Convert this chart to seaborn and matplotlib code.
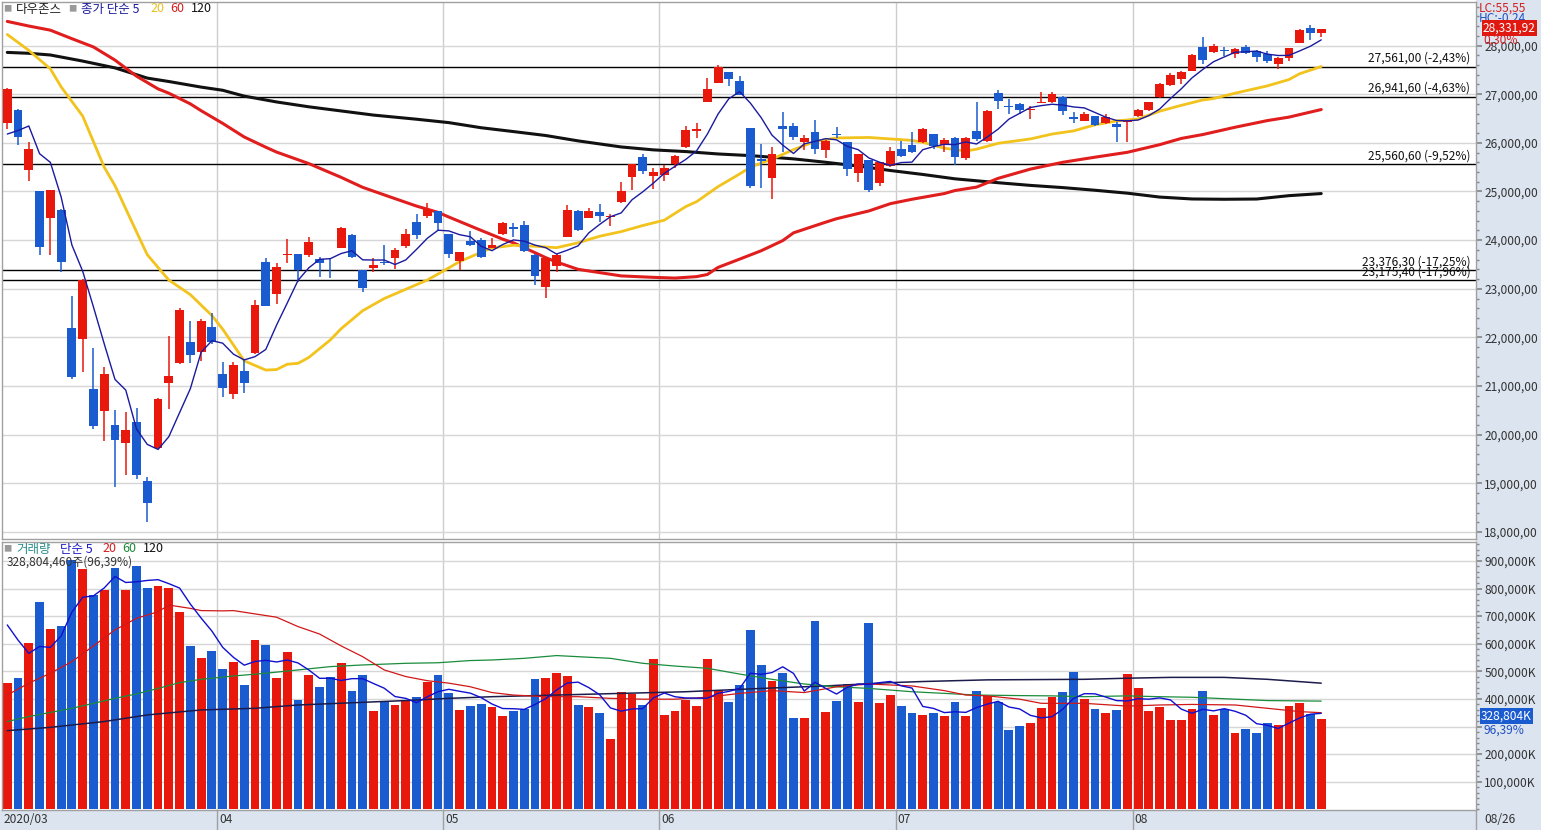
import numpy as np
import pandas as pd
import matplotlib
matplotlib.use('Agg')
import matplotlib.pyplot as plt
from matplotlib.patches import Rectangle
from matplotlib.ticker import FixedLocator, MultipleLocator, FuncFormatter
import seaborn as sns

# Dow Jones daily candles, 2020-03-04 .. 2020-08-26 (123 sessions)
opens = [26401, 26684, 25445, 25006, 24462, 24617, 22197, 21977, 20937, 20498,
         20194, 19840, 20265, 19040, 19734, 21057, 21468, 21907, 21694, 22211,
         21242, 20831, 21312, 21680, 23542, 22898, 23700, 23711, 23697, 23612,
         23534, 23839, 24108, 23379, 23428, 23556, 23641, 23874, 24370, 24490,
         24596, 24122, 23577, 23980, 24002, 23839, 24122, 24263, 24313, 23697,
         23046, 23471, 24072, 24596, 24462, 24568, 24469, 24780, 25304, 25700,
         25325, 25346, 25573, 25905, 26245, 26846, 27236, 27448, 27271, 26302,
         25665, 25268, 26337, 26337, 26018, 26224, 25856, 26174, 26018, 25374,
         25643, 25169, 25516, 25877, 25948, 26011, 26174, 25948, 26089, 25693,
         26245, 26033, 27023, 26754, 26797, 26670, 26825, 26832, 26938, 26528,
         26457, 26542, 26401, 26386, 26422, 26542, 26670, 26938, 27179, 27321,
         27483, 27965, 27858, 27908, 27823, 27979, 27887, 27823, 27611, 27752,
         28050, 28354, 28262]
highs = [27130, 26700, 26018, 25020, 25040, 24630, 22848, 23200, 21787, 21383,
         20513, 20477, 20548, 19133, 20760, 22034, 22614, 22338, 22388, 22494,
         21504, 21490, 21539, 22777, 23641, 23520, 24030, 23720, 24065, 23662,
         23641, 24263, 24122, 23390, 23627, 23910, 23839, 24228, 24532, 24773,
         24600, 24130, 23747, 24178, 24051, 24051, 24370, 24355, 24384, 23705,
         23641, 23718, 24723, 24617, 24667, 24737, 24547, 25198, 25573, 25771,
         25488, 25537, 25740, 26337, 26408, 27342, 27604, 27460, 27363, 26310,
         25976, 25905, 26634, 26408, 26153, 26471, 26068, 26316, 26025, 25780,
         25650, 25615, 25905, 26033, 26231, 26300, 26180, 26103, 26118, 26118,
         26846, 26684, 27080, 26896, 26811, 26754, 27037, 27037, 26967, 26634,
         26634, 26550, 26599, 26422, 26471, 26705, 26846, 27236, 27427, 27483,
         27816, 28177, 28028, 27979, 27958, 28014, 27908, 27894, 27766, 27958,
         28333, 28418, 28340]
lows = [26280, 25948, 25219, 23697, 23697, 23343, 21150, 21291, 20123, 19876,
        18920, 19182, 19097, 18212, 19699, 20527, 21447, 21482, 21517, 21857,
        20782, 20739, 20866, 21660, 22640, 22692, 23520, 23131, 23662, 23237,
        23216, 23830, 23627, 22933, 23343, 23485, 23414, 23839, 24016, 24462,
        24207, 23640, 23379, 23874, 23641, 23830, 24115, 24065, 23747, 23074,
        22805, 23343, 24065, 24178, 24455, 24370, 24299, 24770, 25021, 25360,
        25042, 25219, 25488, 25898, 26089, 26840, 27230, 27165, 26980, 25077,
        25077, 24844, 25820, 26068, 25856, 25764, 25679, 26103, 25311, 25205,
        24985, 25113, 25510, 25714, 25785, 25997, 25870, 25820, 25537, 25643,
        26033, 26025, 26705, 26585, 26599, 26493, 26811, 26825, 26563, 26401,
        26443, 26351, 26395, 26018, 26018, 26535, 26655, 26930, 27165, 27214,
        27475, 27625, 27850, 27788, 27752, 27816, 27660, 27646, 27519, 27682,
        28045, 28106, 28170]
closes = [27108, 26125, 25877, 23853, 25028, 23556, 21185, 23188, 20180, 21241,
          19897, 20088, 19182, 18602, 20725, 21206, 22565, 21645, 22338, 21914,
          20951, 21433, 21057, 22671, 22650, 23450, 23720, 23379, 23959, 23520,
          23520, 24249, 23662, 23025, 23499, 23520, 23789, 24136, 24108, 24638,
          24348, 23718, 23747, 23895, 23662, 23895, 24348, 24221, 23768, 23258,
          23627, 23697, 24617, 24214, 24596, 24490, 24490, 25006, 25559, 25417,
          25396, 25481, 25735, 26266, 26294, 27115, 27554, 27306, 26988, 25113,
          25622, 25764, 26280, 26125, 26103, 25877, 26047, 26153, 25452, 25771,
          25021, 25608, 25835, 25735, 25820, 26294, 25926, 26068, 25714, 26089,
          26082, 26655, 26868, 26740, 26684, 26684, 26846, 27009, 26655, 26493,
          26585, 26372, 26528, 26316, 26457, 26670, 26832, 27200, 27391, 27448,
          27802, 27696, 27993, 27887, 27929, 27851, 27766, 27681, 27745, 27943,
          28311, 28248, 28331.92]
prior_closes = [25766, 25409, 26703, 25917]

# volume, millions of shares
volumes = [456, 475, 601, 750, 652, 664, 905, 870, 776, 795,
           873, 795, 882, 801, 809, 801, 715, 592, 547, 574,
           507, 533, 450, 614, 595, 477, 569, 396, 487, 444,
           478, 529, 429, 487, 356, 393, 378, 396, 408, 463,
           487, 420, 360, 374, 382, 372, 338, 356, 362, 472,
           477, 494, 483, 378, 372, 349, 255, 424, 418, 378,
           545, 342, 356, 396, 374, 545, 432, 389, 450, 650,
           523, 465, 494, 330, 330, 682, 353, 393, 453, 389,
           675, 385, 414, 374, 349, 342, 349, 338, 389, 338,
           429, 412, 388, 287, 302, 313, 367, 408, 424, 496,
           400, 364, 349, 360, 490, 440, 356, 372, 324, 324,
           364, 429, 342, 364, 277, 291, 277, 313, 306, 374,
           385, 345, 328.804]
prior_volumes = [750, 841, 625, 668]

# moving averages (session index, value)
ma20_idx = [0, 2, 4, 5, 7, 9, 10, 12, 13, 15, 17, 19, 20, 22, 24, 25, 26, 27, 28, 30,
            31, 33, 35, 37, 39, 41, 42, 44, 45, 47, 49, 51, 53, 55, 57, 59, 61, 63, 64, 66,
            68, 69, 71, 73, 75, 77, 80, 84, 85, 87, 89, 90, 92, 95, 97, 99, 101, 103, 105, 107,
            109, 111, 112, 114, 117, 119, 120, 122]
ma20_val = [28226, 27900, 27520, 27150, 26550, 25500, 25120, 24170, 23700, 23180,
            22880, 22450, 22170, 21520, 21330, 21340, 21450, 21468, 21590, 21950,
            22180, 22550, 22800, 22990, 23180, 23430, 23560, 23750, 23840, 23895,
            23874, 23845, 23945, 24080, 24175, 24300, 24410, 24690, 24790, 25100,
            25360, 25500, 25665, 25860, 26030, 26100, 26110, 26050, 26010, 25890,
            25830, 25870, 25990, 26080, 26180, 26245, 26370, 26450, 26490, 26650,
            26770, 26880, 26910, 27020, 27170, 27300, 27420, 27568]
ma60_idx = [0, 2, 4, 6, 8, 10, 12, 14, 15, 17, 18, 20, 22, 24, 25, 28, 31, 33, 35, 38,
            40, 41, 44, 46, 47, 50, 51, 53, 57, 60, 62, 64, 65, 66, 68, 70, 72, 73, 76, 77,
            80, 82, 84, 87, 88, 90, 92, 95, 98, 101, 104, 107, 109, 111, 114, 117, 119, 122]
ma60_val = [28495, 28400, 28315, 28140, 27970, 27700, 27370, 27108, 27020, 26800,
            26660, 26400, 26120, 25910, 25810, 25573, 25290, 25085, 24930, 24700,
            24570, 24475, 24200, 24020, 23945, 23640, 23550, 23400, 23265, 23235,
            23220, 23250, 23294, 23440, 23610, 23782, 23990, 24150, 24370, 24440,
            24600, 24750, 24840, 24957, 25020, 25090, 25270, 25460, 25600, 25705,
            25805, 25962, 26090, 26170, 26320, 26457, 26528, 26684]
ma120_idx = [0, 2, 4, 7, 10, 13, 15, 18, 20, 22, 25, 28, 31, 34, 38, 41, 44, 47, 50, 53,
             57, 60, 63, 66, 69, 73, 76, 79, 82, 85, 88, 92, 95, 98, 101, 104, 107, 110, 113, 116,
             119, 122]
ma120_val = [27858, 27840, 27805, 27680, 27540, 27330, 27260, 27145, 27080, 26960,
             26840, 26740, 26655, 26570, 26485, 26415, 26310, 26231, 26150, 26040,
             25915, 25855, 25820, 25771, 25737, 25670, 25600, 25523, 25431, 25350,
             25260, 25180, 25125, 25080, 25025, 24965, 24885, 24846, 24840, 24845,
             24914, 24957]

vma20_idx = [0, 2, 4, 6, 8, 10, 12, 14, 15, 17, 18, 20, 21, 23, 25, 27, 29, 31, 33, 35,
             37, 39, 41, 43, 45, 47, 50, 53, 56, 59, 62, 65, 68, 71, 74, 77, 80, 84, 87, 89,
             91, 94, 96, 100, 104, 107, 110, 114, 117, 120, 122]
vma20_val = [414, 457, 493, 535, 592, 650, 692, 716, 740, 728, 720, 719, 720, 708, 696,
             662, 635, 592, 553, 505, 481, 466, 457, 444, 423, 414, 408, 408, 402, 399,
             399, 406, 420, 430, 423, 444, 454, 447, 430, 414, 411, 399, 384, 384, 374,
             378, 380, 378, 366, 354, 350]
vma60_idx = [0, 2, 6, 8, 10, 12, 14, 16, 18, 21, 24, 27, 30, 33, 37, 40, 43, 45, 48, 51,
             53, 56, 59, 62, 65, 68, 71, 74, 77, 80, 84, 87, 90, 94, 97, 100, 104, 107, 110, 114,
             117, 122]
vma60_val = [318, 336, 366, 384, 402, 418, 438, 459, 471, 483, 493, 505, 517, 523, 529,
             531, 539, 541, 547, 557, 553, 547, 529, 519, 511, 490, 471, 454, 444, 438,
             426, 420, 414, 412, 411, 408, 411, 408, 406, 399, 394, 392]
vma120_idx = [0, 4, 9, 13, 18, 23, 27, 32, 37, 41, 45, 51, 57, 63, 70, 76, 82, 85, 91, 100,
              104, 108, 113, 117, 122]
vma120_val = [285, 297, 318, 342, 360, 366, 378, 386, 394, 402, 408, 414, 420, 426, 438,
              447, 459, 463, 469, 471, 475, 478, 478, 471, 457]

levels = [27561.00, 26941.60, 25560.60, 23376.30, 23175.40]
level_pct = [-2.43, -4.63, -9.52, -17.25, -17.96]

month_first_idx = [20, 41, 61, 83, 105]
month_labels = ['04', '05', '06', '07', '08']

RED = '#e8190c'
BLUE = '#1a5bd0'
STRIP = '#dce4ef'
W, H = 1541, 830

sns.set_theme(style='white')
plt.rcParams['font.family'] = ['Noto Sans CJK KR', 'DejaVu Sans']

n = len(closes)
idx = np.arange(n)
o = np.array(opens, dtype=float)
c = np.array(closes, dtype=float)
up = c >= o
ma5 = pd.Series(prior_closes + closes).rolling(5).mean().iloc[4:].to_numpy()
vma5 = pd.Series(prior_volumes + volumes).rolling(5).mean().iloc[4:].to_numpy()

fig = plt.figure(figsize=(W / 100, H / 100), dpi=100)
fig.patch.set_facecolor('white')


def box(l, t, r, b):
    return [l / W, 1 - b / H, (r - l) / W, (b - t) / H]


def ftext(x, y, s, **kw):
    kw.setdefault('va', 'center')
    return fig.text(x / W, 1 - y / H, s, **kw)


def comma_dec(v):
    # 28,331.92 -> 28,331,92 as the HTS prints it
    return f"{v:,.2f}".replace('.', ',')


# background strips for the axis areas (drawn under the axes)
fig.patches.append(Rectangle((1476 / W, 0), 1 - 1476 / W, 1, transform=fig.transFigure,
                             color=STRIP, zorder=-5))
fig.patches.append(Rectangle((0, 0), 1, 20 / H, transform=fig.transFigure,
                             color=STRIP, zorder=-5))

axp = fig.add_axes(box(2, 2, 1476, 539))
axv = fig.add_axes(box(2, 542, 1476, 810))

for ax in (axp, axv):
    ax.set_xlim(-0.49, 136.37)
    ax.set_facecolor('white')
    for s in ax.spines.values():
        s.set_color('#a0a0a0')
        s.set_linewidth(1)
    for m in month_first_idx:
        ax.axvline(m - 0.5, color='#cdcdcd', lw=1, zorder=0)
    ax.set_xticks([])

# ---- price panel ----
sns.lineplot(x=ma120_idx, y=ma120_val, color='#111111', lw=2.2, ax=axp, zorder=3)
sns.lineplot(x=ma60_idx, y=ma60_val, color='#e01e1e', lw=2.2, ax=axp, zorder=3)
sns.lineplot(x=ma20_idx, y=ma20_val, color='#f2c31c', lw=2.0, ax=axp, zorder=3)

colors = np.where(up, RED, BLUE)
axp.vlines(idx, lows, highs, colors=colors, lw=1.1, zorder=4)
body_lo = np.minimum(o, c)
body_h = np.maximum(np.abs(c - o), 18)
axp.bar(idx, body_h, bottom=body_lo, width=0.82, color=colors, lw=0, zorder=4)

sns.lineplot(x=idx, y=ma5, color='#1a1aa0', lw=1.0, ax=axp, zorder=5)

for lvl, pct in zip(levels, level_pct):
    axp.axhline(lvl, color='black', lw=1, zorder=2)
    axp.annotate(f"{comma_dec(lvl)} ({pct:.2f}%)".replace('.', ','), xy=(1, lvl),
                 xycoords=('axes fraction', 'data'), xytext=(-4, 1.5),
                 textcoords='offset points', ha='right', va='bottom',
                 fontsize=8.6, color='#111111', zorder=6)

axp.set_xlim(-0.49, 136.37)
axp.set_ylim(17858, 28894)
axp.set_xticks([])
axp.set_xlabel('')
axp.set_ylabel('')
axp.yaxis.set_major_locator(FixedLocator(np.arange(18000, 28001, 1000)))
axp.yaxis.set_minor_locator(MultipleLocator(200))
axp.yaxis.set_major_formatter(FuncFormatter(lambda v, p: f"{int(v):,},00"))
axp.grid(axis='y', which='major', color='#d6d6d6', lw=1)
axp.set_axisbelow(True)

# ---- volume panel ----
vol_df = pd.DataFrame({'idx': idx, 'vol': volumes, 'dir': np.where(up, 'up', 'down')})
sns.barplot(data=vol_df, x='idx', y='vol', hue='dir', palette={'up': RED, 'down': BLUE},
            native_scale=True, dodge=False, width=0.82, errorbar=None, legend=False,
            saturation=1, linewidth=0, ax=axv)
sns.lineplot(x=vma120_idx, y=vma120_val, color='#1c1c4c', lw=1.1, ax=axv, zorder=5)
sns.lineplot(x=vma60_idx, y=vma60_val, color='#1a8c3c', lw=0.9, ax=axv, zorder=5)
sns.lineplot(x=vma20_idx, y=vma20_val, color='#d01818', lw=0.9, ax=axv, zorder=5)
sns.lineplot(x=idx, y=vma5, color='#1010d0', lw=1.0, ax=axv, zorder=6)
axv.set_xlim(-0.49, 136.37)
axv.set_ylim(-2.5, 968.5)
axv.set_xticks([])
axv.set_xlabel('')
axv.set_ylabel('')
axv.yaxis.set_major_locator(FixedLocator(np.arange(100, 901, 100)))
axv.yaxis.set_minor_locator(MultipleLocator(20))
axv.yaxis.set_major_formatter(
    FuncFormatter(lambda v, p: '' if round(v) == 300 else f"{int(round(v)) * 1000:,}K"))
axv.grid(axis='y', which='major', color='#d6d6d6', lw=1)
axv.set_axisbelow(True)

for ax in (axp, axv):
    ax.yaxis.tick_right()
    ax.tick_params(axis='y', which='both', direction='out', colors='#888888',
                   labelcolor='#333333', labelsize=8.6, pad=2, right=True,
                   labelright=True, left=False, labelleft=False)
    ax.tick_params(axis='y', which='major', length=4)
    ax.tick_params(axis='y', which='minor', length=2)

# ---- legends / labels ----
ftext(3, 9, '■', fontsize=6, color='#9a9a9a')
ftext(16, 9, '다우존스', fontsize=9, color='#222222')
ftext(68, 9, '■', fontsize=6, color='#9a9a9a')
ftext(81, 9, '종가 단순 5', fontsize=9, color='#1c1c9c')
ftext(150, 9, '20', fontsize=9, color='#e8c21c')
ftext(170, 9, '60', fontsize=9, color='#d42020')
ftext(191, 9, '120', fontsize=9, color='#111111')

ftext(3, 549, '■', fontsize=6, color='#9a9a9a')
ftext(16, 549, '거래량', fontsize=9, color='#2a8c8c')
ftext(60, 549, '단순 5', fontsize=9, color='#1c1cc8')
ftext(102, 549, '20', fontsize=9, color='#d42020')
ftext(122, 549, '60', fontsize=9, color='#1a8a3a')
ftext(143, 549, '120', fontsize=9, color='#111111')
ftext(7, 562, '328,804,460주(96,39%)', fontsize=8.6, color='#333333')

ftext(1479, 8, 'LC:55,55', fontsize=8.6, color='#d42020')
ftext(1479, 18, 'HC:-0,24', fontsize=8.6, color='#2050c0')
ftext(1483, 28, comma_dec(closes[-1]), fontsize=8.6, color='white',
      bbox=dict(boxstyle='square,pad=0.12', fc='#e01810', ec='none'))
ftext(1483, 40, '0,30%', fontsize=8.6, color='#d42020')

ftext(1481, 716, f"{int(round(volumes[-1] * 1000)):,}K", fontsize=8.6, color='white',
      bbox=dict(boxstyle='square,pad=0.12', fc='#1a5bd0', ec='none'))
ftext(1483, 730, '96,39%', fontsize=8.6, color='#2050c0')

# bottom date strip
ftext(4, 819, '2020/03', fontsize=8.6, color='#333333')
for m, lab in zip(month_first_idx, month_labels):
    xpx = 7.3 + 10.77 * (m - 0.5)
    fig.add_artist(plt.Line2D([xpx / W, xpx / W], [0, 20 / H], color='#a0a0a0', lw=1))
    ftext(xpx + 2, 819, lab, fontsize=8.6, color='#333333')
fig.add_artist(plt.Line2D([1476 / W, 1476 / W], [0, 20 / H], color='#a0a0a0', lw=1))
ftext(1484, 819, '08/26', fontsize=8.6, color='#333333')

fig.savefig('out.png', dpi=100)
